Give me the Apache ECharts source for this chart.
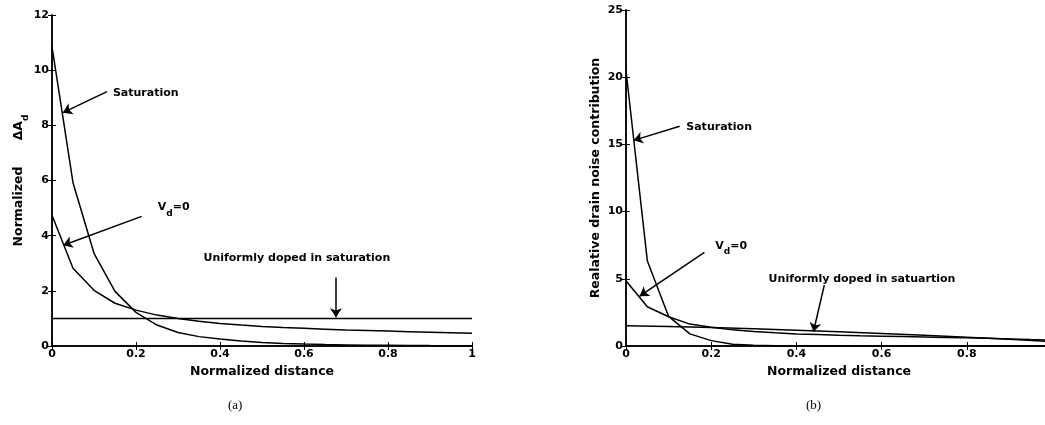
<!DOCTYPE html>
<html>
<head>
<meta charset="utf-8">
<script src="https://cdn.jsdelivr.net/npm/echarts@6/dist/echarts.min.js"></script>
<style>
  html, body { margin: 0; padding: 0; background: #fff; }
  #chart { width: 1045px; height: 425px; }
</style>
</head>
<body>
<div id="chart"></div>
<script>
// normalized distance grid
const xs = [0, 0.05, 0.1, 0.15, 0.2, 0.25, 0.3, 0.35, 0.4, 0.45, 0.5, 0.55, 0.6, 0.65, 0.7, 0.75, 0.8, 0.85, 0.9, 0.95, 1]

// (a) normalized delta A_d
const satA = [10.85, 5.92, 3.36, 1.98, 1.22, 0.76, 0.49, 0.34, 0.25, 0.18, 0.13, 0.095, 0.07, 0.05, 0.04, 0.03, 0.025, 0.02, 0.015, 0.012, 0.01]
const vdA = [4.74, 2.82, 2.02, 1.55, 1.3, 1.12, 1.0, 0.9, 0.82, 0.76, 0.71, 0.67, 0.64, 0.61, 0.58, 0.56, 0.54, 0.52, 0.5, 0.48, 0.46]
const uniAx = [0, 1]
const uniA = [1, 1]

// (b) relative drain noise contribution
const satB = [20.5, 6.35, 2.2, 0.9, 0.4, 0.13, 0.05, 0.02, 0.01, 0.01, 0, 0, 0, 0, 0, 0, 0, 0, 0, 0, 0]
const vdB = [4.85, 2.92, 2.18, 1.63, 1.39, 1.2, 1.07, 0.98, 0.9, 0.85, 0.8, 0.76, 0.73, 0.7, 0.67, 0.64, 0.61, 0.57, 0.53, 0.48, 0.44]
const uniBx = [0, 0.1, 0.2, 0.3, 0.4, 0.5, 0.6, 0.7, 0.8, 0.9, 1]
const uniB = [1.51, 1.45, 1.38, 1.28, 1.17, 1.06, 0.93, 0.8, 0.65, 0.5, 0.33]

// annotation arrows [fromX, fromY, toX, toY] in data units
const arrowsA = [[0.131, 9.22, 0.026, 8.46], [0.2135, 4.7, 0.027, 3.65], [0.676, 2.48, 0.676, 1.04]]
const arrowsB = [[0.126, 16.35, 0.018, 15.3], [0.184, 6.96, 0.032, 3.71], [0.4655, 4.53, 0.44, 1.06]]

// annotation texts
const textsA = [
  { at: [0.145, 9.17], text: 'Saturation', align: 'left' },
  { at: [0.252, 4.93], text: '{v|V}{s|d}{v|=0}', align: 'left' },
  { at: [0.583, 3.19], text: 'Uniformly doped in saturation', align: 'center' }
]
const textsB = [
  { at: [0.1415, 16.3], text: 'Saturation', align: 'left' },
  { at: [0.2094, 7.26], text: '{v|V}{s|d}{v|=0}', align: 'left' },
  { at: [0.554, 4.96], text: 'Uniformly doped in satuartion', align: 'center' }
]

const FONT = '"DejaVu Sans", Verdana, sans-serif'
const subRich = {
  v: { fontFamily: FONT, fontWeight: 'bold', fontSize: 11, lineHeight: 16, verticalAlign: 'top', color: '#000' },
  s: { fontFamily: FONT, fontWeight: 'bold', fontSize: 9, lineHeight: 9, verticalAlign: 'bottom', color: '#000' }
}

const pairs = (x, y) => x.map((v, i) => [v, y[i]])

const curve = (name, data, idx, extra) => Object.assign({
  name,
  type: 'line',
  xAxisIndex: idx,
  yAxisIndex: idx,
  data,
  symbol: 'none',
  lineStyle: { color: '#000', width: 1.5 },
  itemStyle: { color: '#000' }
}, extra || {})

const arrowLines = arrows => ({
  silent: true,
  symbol: ['none', 'arrow'],
  symbolSize: 9,
  label: { show: false },
  lineStyle: { color: '#000', width: 1.5, type: 'solid' },
  emphasis: { disabled: true },
  data: arrows.map(a => [{ coord: [a[0], a[1]] }, { coord: [a[2], a[3]] }])
})

const textPoints = texts => ({
  silent: true,
  symbol: 'circle',
  symbolSize: 0,
  itemStyle: { color: 'transparent' },
  data: texts.map(t => ({
    coord: t.at,
    label: {
      show: true,
      position: t.align === 'left' ? 'right' : 'inside',
      distance: 0,
      formatter: t.text,
      fontFamily: FONT,
      fontWeight: 'bold',
      fontSize: 11,
      color: '#000',
      rich: subRich
    }
  }))
})

const axisLine = { lineStyle: { color: '#000', width: 1.5 } }
const tickLabel = { fontFamily: FONT, fontWeight: 'bold', fontSize: 11, color: '#000' }
const nameStyle = { fontFamily: FONT, fontWeight: 'bold', fontSize: 12.5, color: '#000' }

const bottomX = (grid, max) => ({
  type: 'value', gridIndex: grid, min: 0, max, interval: 0.2,
  name: 'Normalized distance', nameLocation: 'middle', nameGap: 17,
  nameTextStyle: nameStyle,
  axisLine, splitLine: { show: false },
  axisTick: { inside: true, length: 4, lineStyle: { color: '#000' } },
  axisLabel: Object.assign({ margin: 3 }, tickLabel)
})
const topX = (grid, max) => ({
  type: 'value', gridIndex: grid, position: 'top', min: 0, max, interval: 0.2,
  axisLine, splitLine: { show: false },
  axisTick: { inside: true, length: 4, lineStyle: { color: '#000' } },
  axisLabel: { show: false }
})
const leftY = (grid, max, interval, name, gap, rich) => ({
  type: 'value', gridIndex: grid, min: 0, max, interval,
  name, nameLocation: 'middle', nameGap: gap, nameRotate: 90,
  nameTextStyle: Object.assign({ rich }, nameStyle),
  axisLine, splitLine: { show: false },
  axisTick: { inside: true, length: 4, lineStyle: { color: '#000' } },
  axisLabel: Object.assign({ margin: 3 }, tickLabel)
})
const rightY = (grid, max, interval) => ({
  type: 'value', gridIndex: grid, position: 'right', min: 0, max, interval,
  axisLine, splitLine: { show: false },
  axisTick: { inside: true, length: 4, lineStyle: { color: '#000' } },
  axisLabel: { show: false }
})

const chart = echarts.init(document.getElementById('chart'))

chart.setOption({
  animation: false,
  backgroundColor: '#fff',
  grid: [
    { left: 52, top: 15, width: 420, height: 331, outerBoundsMode: 'none' },
    { left: 626, top: 10, width: 426, height: 336, outerBoundsMode: 'none' }
  ],
  xAxis: [bottomX(0, 1), bottomX(1, 1), topX(0, 1), topX(1, 1)],
  yAxis: [
    leftY(0, 12, 2, '{n|Normalized}      {b|\u0394A}{s|d}', 22, {
      n: { fontFamily: FONT, fontWeight: 'bold', fontSize: 12.5, lineHeight: 18, verticalAlign: 'top', color: '#000' },
      b: { fontFamily: FONT, fontWeight: 'bold', fontSize: 12.5, lineHeight: 18, verticalAlign: 'top', color: '#000' },
      s: { fontFamily: FONT, fontWeight: 'bold', fontSize: 9, lineHeight: 9, verticalAlign: 'bottom', color: '#000' }
    }),
    leftY(1, 25, 5, 'Realative drain noise contribution', 24),
    rightY(0, 12, 2),
    rightY(1, 25, 5)
  ],
  graphic: [
    { type: 'text', left: 228, top: 399, style: { text: '(a)', font: '13px "Liberation Serif", serif', fill: '#000' } },
    { type: 'text', left: 806, top: 399, style: { text: '(b)', font: '13px "Liberation Serif", serif', fill: '#000' } }
  ],
  series: [
    curve('Saturation (a)', pairs(xs, satA), 0),
    curve('Vd=0 (a)', pairs(xs, vdA), 0),
    curve('Uniform (a)', pairs(uniAx, uniA), 0, { markLine: arrowLines(arrowsA), markPoint: textPoints(textsA) }),
    curve('Saturation (b)', pairs(xs, satB), 1),
    curve('Vd=0 (b)', pairs(xs, vdB), 1),
    curve('Uniform (b)', pairs(uniBx, uniB), 1, { markLine: arrowLines(arrowsB), markPoint: textPoints(textsB) })
  ]
})

window.addEventListener('resize', () => chart.resize())
</script>
</body>
</html>
